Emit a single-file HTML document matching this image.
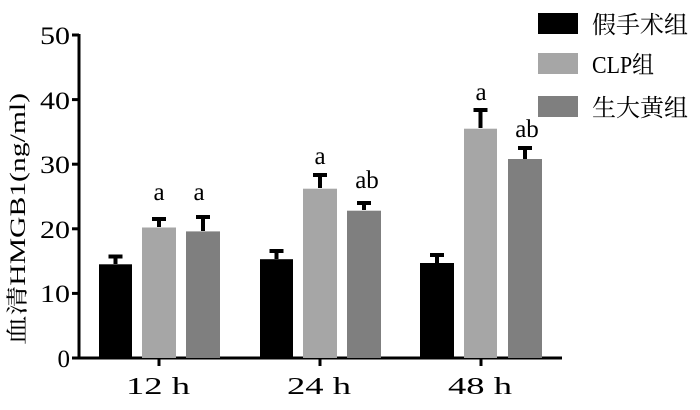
<!DOCTYPE html>
<html><head><meta charset="utf-8"><style>body{margin:0;background:#fff}</style></head><body>
<svg width="700" height="405" xmlns="http://www.w3.org/2000/svg" font-family="'Liberation Serif','Noto Serif CJK SC',serif">
<g stroke="#000" stroke-width="3" fill="none">
<line x1="79" y1="34" x2="79" y2="359"/>
<line x1="78" y1="358" x2="562" y2="358"/>
<line x1="72" y1="35" x2="79" y2="35"/><line x1="72" y1="99.6" x2="79" y2="99.6"/><line x1="72" y1="164.2" x2="79" y2="164.2"/><line x1="72" y1="228.8" x2="79" y2="228.8"/><line x1="72" y1="293.4" x2="79" y2="293.4"/><line x1="72" y1="358" x2="79" y2="358"/>
<line x1="159" y1="358" x2="159" y2="366"/><line x1="320" y1="358" x2="320" y2="366"/><line x1="481" y1="358" x2="481" y2="366"/>
</g>
<g font-size="25" text-anchor="end" fill="#000">
<text x="70" y="44" textLength="30" lengthAdjust="spacingAndGlyphs">50</text><text x="70" y="109" textLength="30" lengthAdjust="spacingAndGlyphs">40</text><text x="70" y="173" textLength="30" lengthAdjust="spacingAndGlyphs">30</text><text x="70" y="238" textLength="30" lengthAdjust="spacingAndGlyphs">20</text><text x="70" y="302" textLength="30" lengthAdjust="spacingAndGlyphs">10</text><text x="70" y="367">0</text>
</g>
<g font-size="24"><text x="126" y="394" textLength="64" lengthAdjust="spacingAndGlyphs">12 h</text><text x="287" y="394" textLength="64" lengthAdjust="spacingAndGlyphs">24 h</text><text x="448" y="394" textLength="64" lengthAdjust="spacingAndGlyphs">48 h</text></g>
<text transform="translate(25,345) rotate(-90)" font-size="22" textLength="252" lengthAdjust="spacingAndGlyphs">血清HMGB1(ng/ml)</text>
<g>
<rect x="99" y="264.3" width="33" height="93.7" fill="#000"/>
<rect x="142" y="227.5" width="34" height="130.5" fill="#a6a6a6"/>
<rect x="186" y="231.4" width="34" height="126.6" fill="#7f7f7f"/>
<rect x="260" y="259.2" width="33" height="98.8" fill="#000"/>
<rect x="303" y="188.7" width="34" height="169.3" fill="#a6a6a6"/>
<rect x="347" y="210.7" width="34" height="147.3" fill="#7f7f7f"/>
<rect x="420" y="263" width="34" height="95" fill="#000"/>
<rect x="464" y="128.7" width="33" height="229.3" fill="#a6a6a6"/>
<rect x="508" y="159" width="34" height="199" fill="#7f7f7f"/>
</g>
<g stroke="#000" stroke-width="4">
<line x1="115.5" y1="264" x2="115.5" y2="256.5"/><line x1="108.5" y1="256.5" x2="122.5" y2="256.5"/>
<line x1="159" y1="227" x2="159" y2="219"/><line x1="152" y1="219" x2="166" y2="219"/>
<line x1="203" y1="231" x2="203" y2="217"/><line x1="196" y1="217" x2="210" y2="217"/>
<line x1="276.5" y1="259" x2="276.5" y2="251"/><line x1="269.5" y1="251" x2="283.5" y2="251"/>
<line x1="320" y1="188" x2="320" y2="175"/><line x1="313" y1="175" x2="327" y2="175"/>
<line x1="364" y1="210" x2="364" y2="203"/><line x1="357" y1="203" x2="371" y2="203"/>
<line x1="437" y1="263" x2="437" y2="255"/><line x1="430" y1="255" x2="444" y2="255"/>
<line x1="480.5" y1="128" x2="480.5" y2="110"/><line x1="473.5" y1="110" x2="487.5" y2="110"/>
<line x1="525" y1="159" x2="525" y2="148"/><line x1="518" y1="148" x2="532" y2="148"/>
</g>
<g font-size="25" text-anchor="middle">
<text x="159" y="200">a</text><text x="199" y="200">a</text>
<text x="320" y="164">a</text><text x="367" y="188">ab</text>
<text x="481" y="100">a</text><text x="527" y="137">ab</text>
</g>
<rect x="538" y="13" width="40" height="21" fill="#000"/>
<rect x="538" y="53" width="40" height="21" fill="#a6a6a6"/>
<rect x="538" y="96" width="40" height="21" fill="#7f7f7f"/>
<g font-size="24"><text x="592" y="33">假手术组</text><text x="592" y="73" textLength="62" lengthAdjust="spacingAndGlyphs">CLP组</text><text x="592" y="116">生大黄组</text></g>
</svg>
</body></html>
